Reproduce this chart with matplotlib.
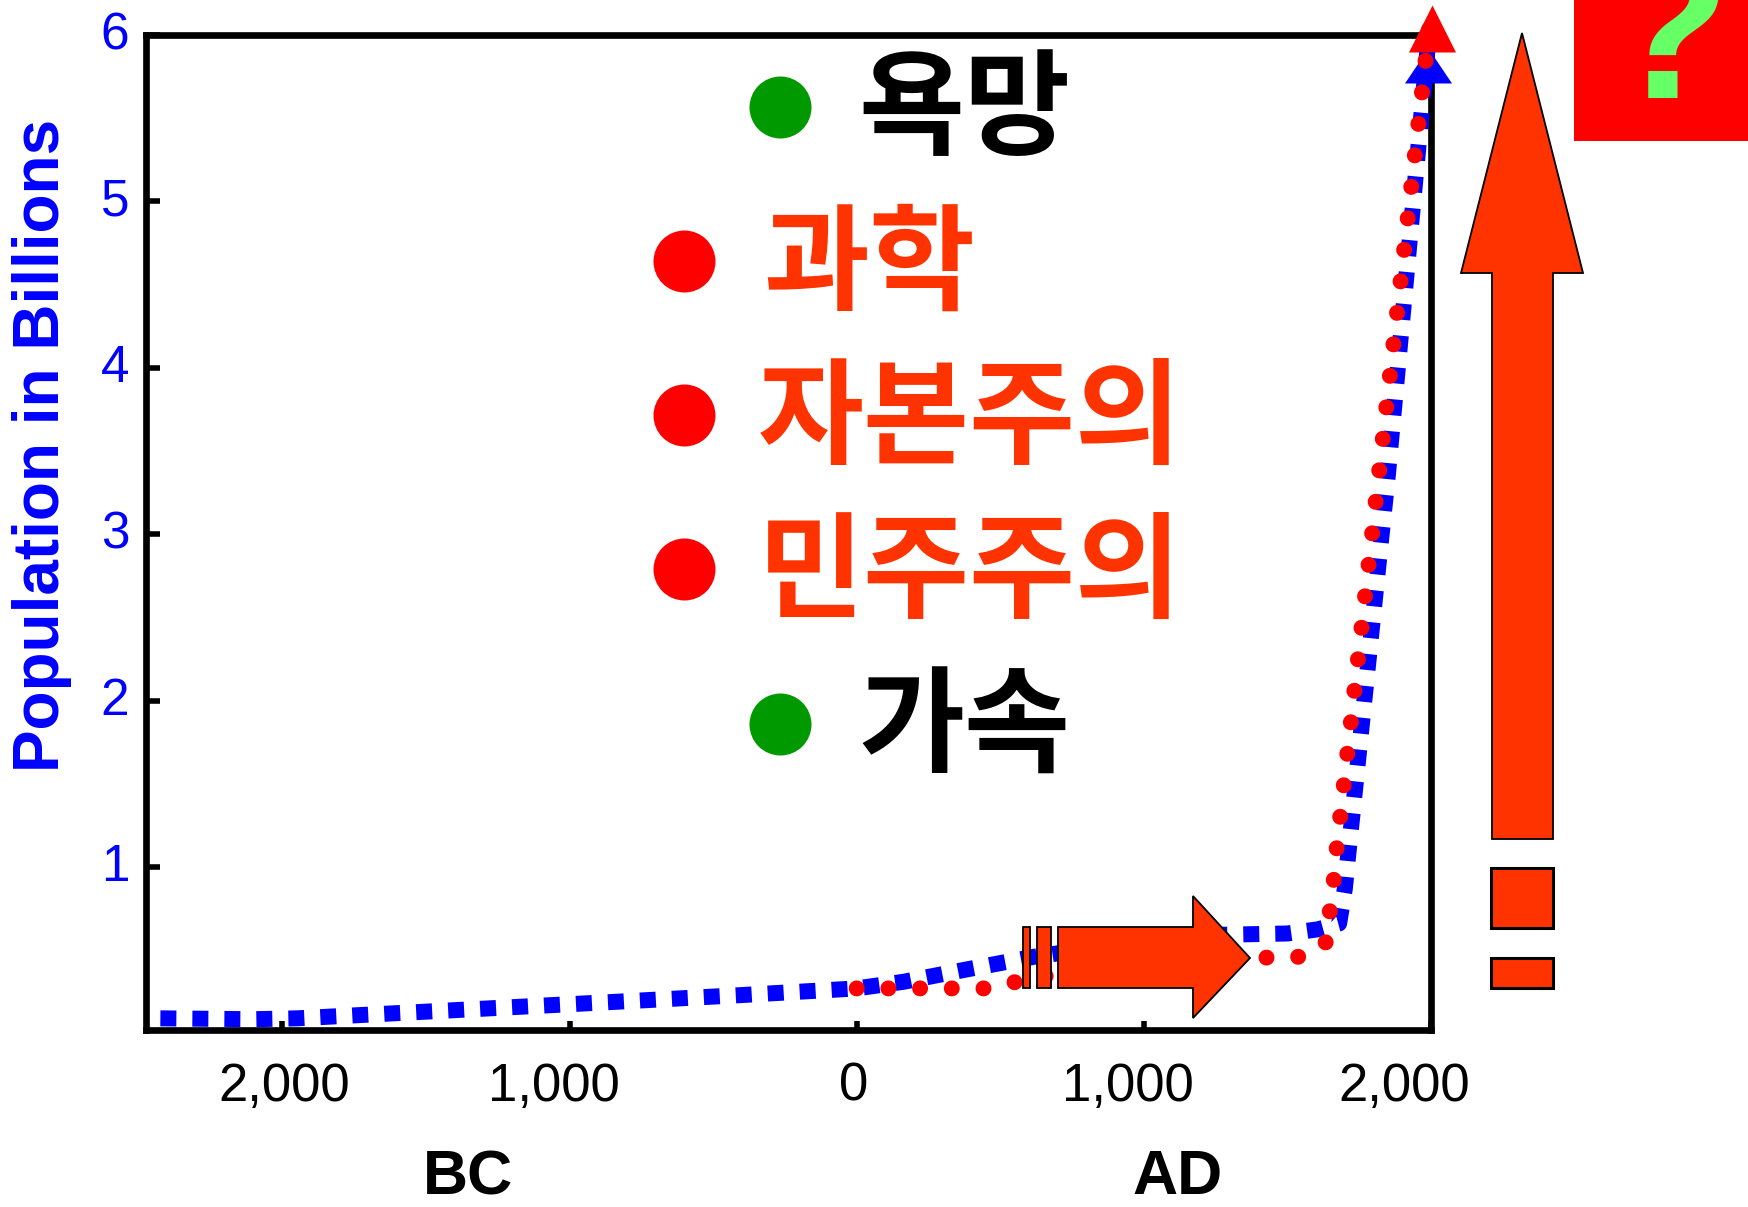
import matplotlib
matplotlib.use("Agg")
import matplotlib.pyplot as plt
from matplotlib.lines import Line2D
from matplotlib.patches import Polygon
from matplotlib.transforms import ScaledTranslation

W, H, DPI = 1748, 1207, 100

# ---------------- data ----------------
blue_years = [-2425, -2100, -1950, -833, -400, 0, 164, 386, 617, 900, 1200,
              1500, 1606, 1680, 1700, 1711, 1850, 1988]
blue_pop = [0.09, 0.085, 0.09, 0.19, 0.23, 0.27, 0.31, 0.385, 0.46, 0.53, 0.59,
            0.60, 0.625, 0.66, 0.87, 1.06, 3.36, 5.92]

red_years = [0, 449, 557, 676, 900, 1345, 1443, 1554, 1636, 1648, 1662, 1672,
             1822, 1972, 2003]
red_pop = [0.27, 0.27, 0.31, 0.35, 0.39, 0.43, 0.46, 0.46, 0.55, 0.74, 0.93,
           1.12, 3.42, 5.71, 6.18]

x_ticks = [-2000, -1000, 0, 1000, 2000]
x_ticklabels = ["2,000", "1,000", "0", "1,000", "2,000"]
x_label_dx_px = [2, -16, -3, -16, -27]
y_ticks = [1, 2, 3, 4, 5, 6]
y_ticklabels = ["1", "2", "3", "4", "5", "6"]

items = ["욕망", "과학", "자본주의", "민주주의", "가속"]
item_colors = ["#000000", "#FF3300", "#FF3300", "#FF3300", "#000000"]
bullet_colors = ["#009900", "#FF0000", "#FF0000", "#FF0000", "#009900"]

plt.rcParams["font.family"] = ["Liberation Sans", "DejaVu Sans"]

fig = plt.figure(figsize=(W / DPI, H / DPI), dpi=DPI)
ax = fig.add_axes([146 / W, 1 - 1030 / H, (1431 - 146) / W, (1030 - 35) / H])
ax.set_xlim(-2475, 2000)
ax.set_ylim(0.02, 6)
for s in ax.spines.values():
    s.set_linewidth(4.8)

ax.set_xticks(x_ticks, x_ticklabels)
ax.set_yticks(y_ticks, y_ticklabels)
ax.tick_params(axis="x", direction="in", length=6.5, width=4, pad=23,
               labelsize=38, color="black", labelcolor="black")
ax.tick_params(axis="y", direction="in", length=10, width=4, pad=12,
               labelsize=37, color="black", labelcolor="#0000FF")
for lab, dx in zip(ax.get_xticklabels(), x_label_dx_px):
    lab.set_transform(lab.get_transform() + ScaledTranslation(dx / DPI, 0, fig.dpi_scale_trans))
for lab in ax.get_yticklabels():
    lab.set_transform(lab.get_transform() + ScaledTranslation(0, 5 / DPI, fig.dpi_scale_trans))

ax.set_ylabel("Population in Billions", fontsize=46, fontweight="bold", color="#0000FF")
ax.yaxis.label.set_va("center")
ax.yaxis.set_label_coords((42.5 - 146) / 1285, 0.588)

lw = 16 * 72 / DPI
ax.plot(blue_years, blue_pop, color="#0000FF", lw=lw, ls=(0, (1, 1)),
        dash_capstyle="butt", zorder=3, clip_on=False)
ax.plot(red_years, red_pop, color="#FF0000", lw=lw, ls=(0, (0.001, 1.98)),
        dash_capstyle="round", zorder=4, clip_on=False)

head_blue = [(0, 0), (-23.5, -35), (23.5, -35)]
head_red = [(0, 0), (-23.5, -47), (23.5, -47)]
ax.plot([blue_years[-1]], [blue_pop[-1]], marker=head_blue, ms=70 * 72 / DPI,
        color="#0000FF", mew=0, zorder=3.5, clip_on=False)
ax.plot([red_years[-1]], [red_pop[-1]], marker=head_red, ms=94 * 72 / DPI,
        color="#FF0000", mew=0, zorder=4.5, clip_on=False)


def F(x, y):
    return (x / W, 1 - y / H)


def poly(pts, **kw):
    fig.add_artist(Polygon([F(*p) for p in pts], closed=True,
                           transform=fig.transFigure, **kw))


arrow_kw = dict(facecolor="#FF3300", edgecolor="black", linewidth=1.3)
# horizontal arrow + bars
poly([(1058, 927), (1193, 927), (1193, 896), (1250, 958), (1193, 1018),
      (1193, 988), (1058, 988)], **arrow_kw)
poly([(1023, 927), (1030, 927), (1030, 988), (1023, 988)], **arrow_kw)
poly([(1037, 927), (1051, 927), (1051, 988), (1037, 988)], **arrow_kw)
# vertical arrow + boxes
poly([(1522, 33), (1583, 273), (1553, 273), (1553, 839), (1492, 839),
      (1492, 273), (1461, 273)], **arrow_kw)
box_kw = dict(facecolor="#FF3300", edgecolor="black", linewidth=2.2)
poly([(1491, 868), (1553, 868), (1553, 928), (1491, 928)], **box_kw)
poly([(1491, 958), (1553, 958), (1553, 988), (1491, 988)], **box_kw)

# red box with question mark
poly([(1574, -5), (1753, -5), (1753, 141), (1574, 141)], facecolor="#FF0000",
     edgecolor="none")
fig.text(*F(1604, 98), "?", fontsize=149, fontweight="bold", color="#66FF66",
         ha="left", va="baseline")

# BC / AD
fig.text(*F(468, 1178), "BC", fontsize=45, fontweight="bold", ha="center", va="center")
fig.text(*F(1178, 1178), "AD", fontsize=45, fontweight="bold", ha="center", va="center")

# Korean bullet list
row_y = [113, 267, 422, 576, 730]
text_x = [964, 869, 970, 970, 964]
bullet_x = [780, 684, 684, 684, 780]
bullet_y = [107, 261, 415, 569, 724]
for s, c, bc, y, by, tx, bx in zip(items, item_colors, bullet_colors, row_y,
                                   bullet_y, text_x, bullet_x):
    fig.add_artist(Line2D([bx / W], [1 - by / H], marker="o", ms=62 * 72 / DPI,
                          color=bc, mew=0, transform=fig.transFigure))
    fig.text(*F(tx, y), s, fontsize=83, fontweight="bold", color=c,
             ha="center", va="center", family=["Noto Sans CJK KR", "DejaVu Sans"])

fig.savefig("out.png", dpi=DPI)
